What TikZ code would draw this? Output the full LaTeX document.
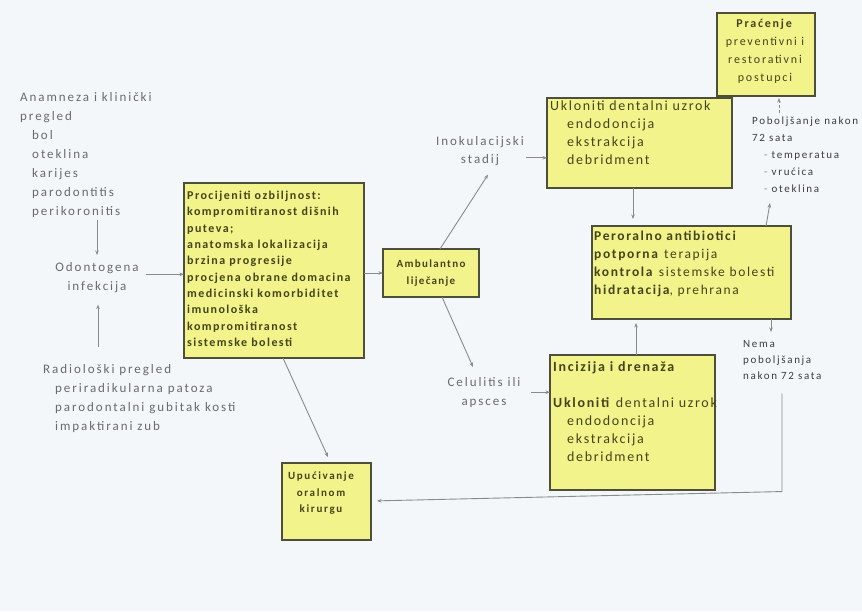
\documentclass[tikz,border=0pt]{standalone}
\usepackage{fontspec}
\setmainfont{Carlito}
\usetikzlibrary{arrows.meta,calc}
\newfontfamily\labf[LetterSpace=15]{Carlito}
\newfontfamily\boxf[LetterSpace=12]{Carlito}
\definecolor{bgc}{HTML}{F3F7FA}
\definecolor{boxfill}{HTML}{F3F38C}
\definecolor{boxline}{HTML}{4E4E3C}
\definecolor{txtgray}{HTML}{6A6A6A}
\definecolor{txtdark}{HTML}{3C3C3C}
\definecolor{txtolive}{HTML}{44441A}
\definecolor{arrc}{HTML}{8A8A8A}
\tikzset{
  ybox/.style={draw=boxline,line width=1.5pt,fill=boxfill,inner sep=0pt,outer sep=0pt,anchor=north west},
  lab/.style={inner sep=0pt,text=txtgray,align=left,anchor=north west},
  small/.style={inner sep=0pt,text=txtdark,align=left,anchor=north west},
  btxt/.style={inner sep=0pt,text=txtolive,align=left,anchor=north west},
  arr/.style={draw=arrc,line width=0.9pt,-{Stealth[length=4.5pt,width=3.5pt]}}
}
\begin{document}
\begin{tikzpicture}[x=1pt,y=-1pt]
\fill[bgc] (0,0) rectangle (862,611);
\useasboundingbox (0,0) rectangle (862,611);

% boxes
\node[ybox,minimum width=180pt,minimum height=175pt] (proc) at (184,183) {};
\node[ybox,minimum width=96pt,minimum height=48pt] (amb) at (383,249) {};
\node[ybox,minimum width=185pt,minimum height=90pt] (ukl) at (547,98) {};
\node[ybox,minimum width=98pt,minimum height=83pt] (prac) at (717,13) {};
\node[ybox,minimum width=199pt,minimum height=93pt] (pero) at (592,226) {};
\node[ybox,minimum width=165pt,minimum height=135pt] (inc) at (550,355) {};
\node[ybox,minimum width=89pt,minimum height=77pt] (upu) at (282,463) {};

% box texts
\node[btxt,font={\boxf\bfseries\fontsize{12}{16.3}\selectfont}] (procT) at (187,191)
 {Procijeniti ozbiljnost:\\kompromitiranost dišnih\\puteva;\\anatomska lokalizacija\\brzina progresije\\procjena obrane domacina\\medicinski komorbiditet\\imunološka\\kompromitiranost\\sistemske bolesti};
\node[btxt,anchor=north,align=center,font={\boxf\bfseries\fontsize{11}{17}\selectfont}] (ambT) at (431,260) {Ambulantno\\liječanje};
\node[btxt,font={\boxf\fontsize{14}{18}\selectfont}] (uklT) at (550,101)
 {Ukloniti dentalni uzrok\\\hspace*{17pt}endodoncija\\\hspace*{17pt}ekstrakcija\\\hspace*{17pt}debridment};
\node[btxt,anchor=north,align=center,font={\labf\fontsize{12}{18}\selectfont}] (pracT) at (765,19)
 {\textbf{Praćenje}\\preventivni i\\restorativni\\postupci};
\node[btxt,font={\boxf\fontsize{13.5}{18}\selectfont}] (peroT) at (594,231)
 {\textbf{Peroralno antibiotici}\\\textbf{potporna} terapija\\\textbf{kontrola} sistemske bolesti\\\textbf{hidratacija}, prehrana};
\node[btxt,font={\boxf\fontsize{14}{18}\selectfont}] (incT) at (553,361)
 {\textbf{Incizija i drenaža}\\[18pt]\textbf{Ukloniti} dentalni uzrok\\\hspace*{14pt}endodoncija\\\hspace*{14pt}ekstrakcija\\\hspace*{14pt}debridment};
\node[btxt,anchor=north,align=center,font={\labf\bfseries\fontsize{11}{16.5}\selectfont}] (upuT) at (321,472)
 {Upućivanje\\oralnom\\kirurgu};

% free labels
\node[lab,font={\labf\fontsize{13}{19}\selectfont}] (anamT) at (20,92)
 {Anamneza i klinički\\pregled\\\hspace*{12pt}bol\\\hspace*{12pt}oteklina\\\hspace*{12pt}karijes\\\hspace*{12pt}parodontitis\\\hspace*{12pt}perikoronitis};
\node[lab,anchor=north,align=center,font={\labf\fontsize{13}{19}\selectfont}] (odonT) at (97,262) {Odontogena\\infekcija};
\node[lab,font={\labf\fontsize{13}{19}\selectfont}] (radT) at (43,364)
 {Radiološki pregled\\\hspace*{12pt}periradikularna patoza\\\hspace*{12pt}parodontalni gubitak kosti\\\hspace*{12pt}impaktirani zub};
\node[lab,anchor=north,align=center,font={\labf\fontsize{13}{18}\selectfont}] (inokT) at (480,136) {Inokulacijski\\stadij};
\node[lab,anchor=north,align=center,font={\labf\fontsize{13}{19}\selectfont}] (celT) at (484,377) {Celulitis ili\\apsces};
\node[small,font={\labf\fontsize{11}{17}\selectfont}] (pobT) at (752,117)
 {Poboljšanje nakon\\72 sata\\\hspace*{12pt}{\color{arrc}-} temperatua\\\hspace*{12pt}{\color{arrc}-} vrućica\\\hspace*{12pt}{\color{arrc}-} oteklina};
\node[small,font={\labf\fontsize{11}{16}\selectfont}] (nemaT) at (743,340) {Nema\\poboljšanja\\nakon 72 sata};

% connectors
\draw[arr] ($(anamT.south -| odonT.north)+(0,2)$) -- ($(odonT.north)+(0,-7)$);
\draw[arr] ($(radT.north -| odonT.south)+(1,-17)$) -- ($(odonT.south)+(1,12)$);
\draw[arr] ($(odonT.east)+(7,-3)$) coordinate (a3s) -- (a3s -| proc.west);
\draw[arr] (proc.east |- amb.west) -- (amb.west);
\draw[arr] ($(amb.north)+(9,0)$) -- ($(inokT.south)+(8,9)$);
\draw[arr] ($(amb.south)+(11,0)$) -- ($(celT.north)+(-11,-10)$);
\draw[arr] ($(inokT.east)+(2,7)$) coordinate (a7s) -- (a7s -| ukl.west);
\draw[arr] ($(celT.east)+(10,0)$) coordinate (a8s) -- (a8s -| inc.west);
\draw[arr] ($(ukl.south)+(-6.5,0)$) coordinate (a9s) -- ($(a9s |- pero.north)+(0,-7)$);
\draw[arr] ($(inc.north)+(3.5,0)$) coordinate (a10s) -- ($(a10s |- pero.south)+(0,4)$);
\draw[arr] ($(pero.north)+(74.5,0)$) -- ($(pobT.south west)+(18,10)$);
\draw[arr,dashed,dash pattern=on 3pt off 2pt] ($(pobT.north west)+(27,-4)$) -- ($(prac.south)+(13,2)$);
\draw[arr] ($(pero.south)+(79.5,0)$) -- ($(nemaT.north west)+(28,-8)$);
\draw[arr,shorten >=6pt] ($(nemaT.south west)+(39,14)$) -- ++(0,98) -- ($(upu.east)+(0,-0.5)$);
\draw[arr] ($(proc.south west)+(99,0)$) -- ($(upu.north)+(1.5,-6)$);
\end{tikzpicture}
\end{document}
